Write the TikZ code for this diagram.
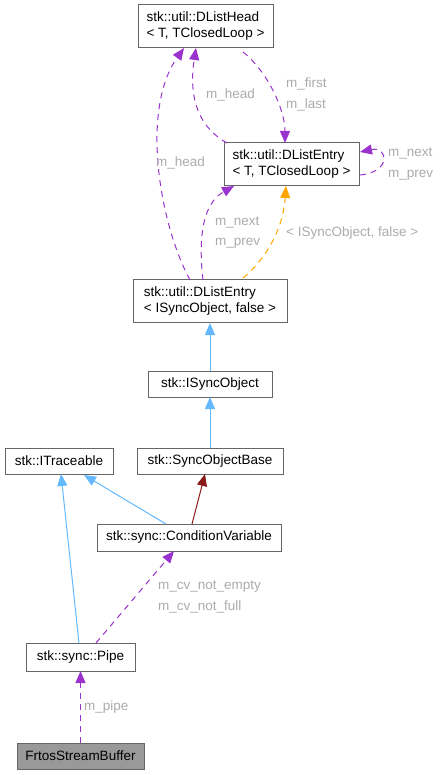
\documentclass[tikz,border=0pt]{standalone}
\usepackage{fontspec}
\setmainfont{Liberation Sans}
\usetikzlibrary{arrows.meta}
\definecolor{edgepurple}{HTML}{9A32CD}
\definecolor{edgeorange}{HTML}{FFA500}
\definecolor{edgeblue}{HTML}{63B8FF}
\definecolor{edgered}{HTML}{8B1A1A}
\definecolor{boxline}{HTML}{666666}
\definecolor{labelgray}{HTML}{ABABAB}
\definecolor{grayfill}{HTML}{999999}
\begin{document}
\begin{tikzpicture}[x=1pt,y=-1pt,
  cls/.style={draw=boxline,line width=1pt,fill=white,inner sep=0pt,align=left,
    font=\fontsize{13.5}{16}\selectfont},
  lbl/.style={text=labelgray,font=\fontsize{13.5}{15}\selectfont,anchor=west,inner sep=0pt},
  tip/.style={-{Triangle[length=12pt,width=10pt]}},
  rel/.style={tip,dash pattern=on 6pt off 5pt,line width=1pt,draw=edgepurple},
  inh/.style={tip,line width=1pt,draw=edgeblue},
]
\useasboundingbox (0,0) rectangle (440,775);
% nodes
\node[cls,minimum width=135pt,minimum height=43pt] (head) at (205.5,26.5) {stk::util::DListHead\\< T, TClosedLoop >};
\node[cls,minimum width=135pt,minimum height=43pt] (entT) at (291.5,164.5) {stk::util::DListEntry\\< T, TClosedLoop >};
\node[cls,minimum width=154pt,minimum height=43pt] (entS) at (210,301) {stk::util::DListEntry\\< ISyncObject, false >};
\node[cls,minimum width=124pt,minimum height=26pt] (isync) at (210,384) {stk::ISyncObject};
\node[cls,minimum width=108pt,minimum height=26pt] (itrace) at (59,461) {stk::ITraceable};
\node[cls,minimum width=146pt,minimum height=26pt] (sob) at (210,461) {stk::SyncObjectBase};
\node[cls,minimum width=184pt,minimum height=27pt] (cv) at (189,537.5) {stk::sync::ConditionVariable};
\node[cls,minimum width=109pt,minimum height=28pt] (pipe) at (80.5,657) {stk::sync::Pipe};
\node[cls,fill=grayfill,minimum width=127pt,minimum height=26pt] (frtos) at (80.5,756) {FrtosStreamBuffer};
% connector end points
\coordinate (frtosT) at (80.5,743);
\coordinate (pipeB) at (80.5,671);
\coordinate (pipeTR) at (96,643);
\coordinate (pipeTL) at (79,643);
\coordinate (cvB) at (174,551);
\coordinate (cvTL) at (166,524);
\coordinate (cvTR) at (192,524);
\coordinate (itraceB) at (61,474);
\coordinate (itraceBR) at (84,475);
\coordinate (sobB) at (205,474);
\coordinate (sobT) at (210,448);
\coordinate (isyncB) at (210,397);
\coordinate (isyncT) at (210,371);
\coordinate (entSB) at (210,323);
\coordinate (entSa) at (190,280);
\coordinate (entSb) at (203,280);
\coordinate (entSc) at (243,278);
\coordinate (entTBa) at (234,186);
\coordinate (entTBb) at (286,186);
\coordinate (entTTL) at (227,143);
\coordinate (entTT) at (285,143);
\coordinate (entTR1) at (360,175);
\coordinate (entTR2) at (360,152);
\coordinate (headBa) at (184,48);
\coordinate (headBb) at (196,48);
\coordinate (headBc) at (243,52);
% connectors
\draw[rel] (frtosT) -- (pipeB);
\node[lbl] (l1) at (84,707) {m\_pipe};
\draw[rel] (pipeTR) -- (cvB);
\node[lbl] (l2) at (158,587) {m\_cv\_not\_empty};
\node[lbl] (l3) at (158,607) {m\_cv\_not\_full};
\draw[inh] (pipeTL) -- (itraceB);
\draw[inh] (cvTL) -- (itraceBR);
\draw[tip,line width=1pt,draw=edgered] (cvTR) -- (sobB);
\draw[inh] (sobT) -- (isyncB);
\draw[inh] (isyncT) -- (entSB);
\draw[tip,dash pattern=on 6pt off 5pt,line width=1pt,draw=edgeorange] (entSc) .. controls (265,260) and (283,230) .. (entTBb);
\node[lbl] (l4) at (286,233) {< ISyncObject, false >};
\draw[rel] (entSb) .. controls (199,245) and (200,205) .. (entTBa);
\node[lbl] (l5) at (215,222) {m\_next};
\node[lbl] (l6) at (215,243) {m\_prev};
\draw[rel] (entSa) .. controls (160,225) and (140,110) .. (headBa);
\node[lbl] (l7) at (156,163) {m\_head};
\draw[rel] (entTTL) .. controls (200,128) and (188,100) .. (headBb);
\node[lbl] (l8) at (206,95) {m\_head};
\draw[rel] (headBc) .. controls (268,72) and (285,110) .. (entTT);
\node[lbl] (l9) at (286,84) {m\_first};
\node[lbl] (l10) at (286,105) {m\_last};
\draw[rel] (entTR1) .. controls (392,172) and (388,146) .. (entTR2);
\node[lbl] (l11) at (388,153) {m\_next};
\node[lbl] (l12) at (388,175) {m\_prev};
\end{tikzpicture}
\end{document}
